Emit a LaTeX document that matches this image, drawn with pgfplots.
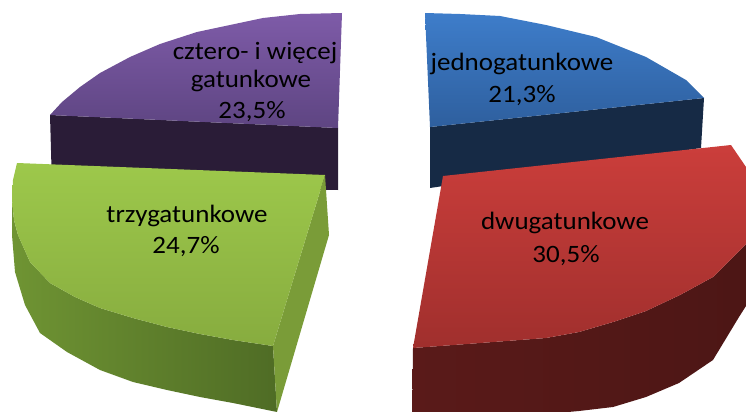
\documentclass[border=0pt]{standalone}
\usepackage{fontspec}
\setmainfont{Carlito}[FakeStretch=1.08]
\usepackage{pgfplots}
\pgfplotsset{compat=1.18}
\definecolor{purT}{HTML}{7E5BA8}
\definecolor{purB}{HTML}{5E4582}
\definecolor{purD}{HTML}{2A1C37}
\definecolor{bluT}{HTML}{3E7DCA}
\definecolor{bluB}{HTML}{2E5F9E}
\definecolor{bluD}{HTML}{162A45}
\definecolor{redT}{HTML}{CB3E3B}
\definecolor{redB}{HTML}{A02F2D}
\definecolor{redD}{HTML}{4C1615}
\definecolor{redD2}{HTML}{5A1A19}
\definecolor{grnT}{HTML}{9DC84B}
\definecolor{grnB}{HTML}{87AC3F}
\definecolor{grnS}{HTML}{6F9433}
\definecolor{grnS2}{HTML}{4F6C25}
\definecolor{grnR}{HTML}{7A9C38}
\newcommand{\lbl}{\fontsize{25bp}{30bp}\selectfont}
\begin{document}
\begin{tikzpicture}
\begin{axis}[scale only axis, width=746bp, height=412bp,
  xmin=0, xmax=746, ymin=0, ymax=412, y dir=reverse,
  axis lines=none, clip=true]
% purple: cztero- i wiecej gatunkowe 23,5%
\addplot[draw=none, fill=purD] coordinates {(50,115)(338,128)(338,190)(52,186)} -- cycle;
\addplot[draw=none, top color=purT, bottom color=purB] coordinates {(342,13)(300,14)(263,18)(230,25)(197,32)(160,44)(130,57)(100,73)(80,87)(62,102)(50,115)(338,128)} -- cycle;
% blue: jednogatunkowe 21,3%
\addplot[draw=none, fill=bluD] coordinates {(430,127)(704,98)(701,148)(430,188)} -- cycle;
\addplot[draw=none, top color=bluT, bottom color=bluB] coordinates {(425,13)(460,14)(500,16)(546,25)(596,37)(646,57)(686,80)(704,98)(430,127)} -- cycle;
% green: trzygatunkowe 24,7%
\addplot[draw=none, left color=grnS, right color=grnS2] coordinates {(12,200)(14,220)(18,235)(30,262)(50,283)(75,297)(100,308)(133,318)(167,327)(200,334)(233,340)(273,346)(277,412)(233,403)(200,397)(167,390)(133,382)(100,370)(67,352)(40,333)(25,305)(15,272)(12,235)} -- cycle;
\addplot[draw=none, fill=grnR] coordinates {(325,175)(329,235)(277,412)(273,346)} -- cycle;
\addplot[draw=none, top color=grnT, bottom color=grnB] coordinates {(17,163)(325,175)(273,346)(233,340)(200,334)(167,327)(133,318)(100,308)(75,297)(50,283)(30,262)(18,235)(14,220)(12,200)(13,180)} -- cycle;
% red: dwugatunkowe 30,5%
\addplot[draw=none, left color=redD2, right color=redD] coordinates {(413,348)(480,343)(546,338)(579,332)(613,322)(646,311)(680,295)(713,277)(746,244)(760,228)(760,300)(746,306)(739,317)(713,360)(679,383)(646,397)(613,407)(579,411)(546,414)(480,425)(412,430)} -- cycle;
\addplot[draw=none, top color=redT, bottom color=redB] coordinates {(443,176)(731,145)(746,167)(760,188)(760,228)(746,244)(713,277)(680,295)(646,311)(613,322)(579,332)(546,338)(480,343)(413,348)} -- cycle;
% labels
\node[anchor=base, font=\lbl] at (axis cs:255,60) {cztero- i więcej};
\node[anchor=base, font=\lbl] at (axis cs:251,88) {gatunkowe};
\node[anchor=base, font=\lbl] at (axis cs:252,118) {23,5\%};
\node[anchor=base, font=\lbl] at (axis cs:522,71) {jednogatunkowe};
\node[anchor=base, font=\lbl] at (axis cs:522,102) {21,3\%};
\node[anchor=base, font=\lbl] at (axis cs:565,229) {dwugatunkowe};
\node[anchor=base, font=\lbl] at (axis cs:566,262) {30,5\%};
\node[anchor=base, font=\lbl] at (axis cs:187,222) {trzygatunkowe};
\node[anchor=base, font=\lbl] at (axis cs:186,253) {24,7\%};
\end{axis}
\pgfresetboundingbox
\path[use as bounding box] (current axis.south west) rectangle (current axis.north east);
\end{tikzpicture}
\end{document}
